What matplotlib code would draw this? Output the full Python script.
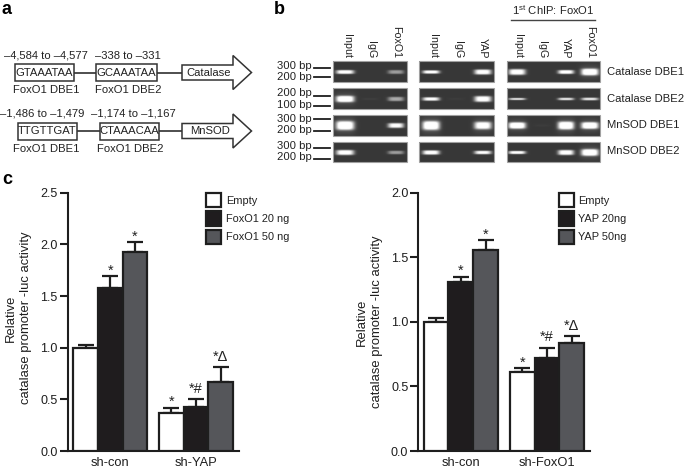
import matplotlib
matplotlib.use("Agg")
import matplotlib.pyplot as plt
from matplotlib.patches import Polygon, Rectangle
import numpy as np

plt.rcParams.update({
    "font.family": ["Liberation Sans", "DejaVu Sans"],
    "mathtext.fontset": "custom",
    "mathtext.rm": "Liberation Sans",
    "text.color": "#222222",
    "axes.linewidth": 1.5,
})

W, H = 685, 470
INK = "#1e1e1e"

# ---- panel c, left chart ----
GROUPS_L = ["sh-con", "sh-YAP"]
EMPTY_L = [1.00, 0.37]
LOW_L = [1.58, 0.43]
HIGH_L = [1.93, 0.67]
EMPTY_ERR_L = [0.03, 0.05]
LOW_ERR_L = [0.11, 0.07]
HIGH_ERR_L = [0.09, 0.14]
MARKS_EMPTY_L = ["", "*"]
MARKS_LOW_L = ["*", "*#"]
MARKS_HIGH_L = ["*", "*Δ"]
LEGEND_L = ["Empty", "FoxO1 20 ng", "FoxO1 50 ng"]
YTICKS_L = [0.0, 0.5, 1.0, 1.5, 2.0, 2.5]

# ---- panel c, right chart ----
GROUPS_R = ["sh-con", "sh-FoxO1"]
EMPTY_R = [1.00, 0.61]
LOW_R = [1.31, 0.72]
HIGH_R = [1.56, 0.84]
EMPTY_ERR_R = [0.03, 0.03]
LOW_ERR_R = [0.04, 0.08]
HIGH_ERR_R = [0.07, 0.05]
MARKS_EMPTY_R = ["", "*"]
MARKS_LOW_R = ["*", "*#"]
MARKS_HIGH_R = ["*", "*Δ"]
LEGEND_R = ["Empty", "YAP 20ng", "YAP 50ng"]
YTICKS_R = [0.0, 0.5, 1.0, 1.5, 2.0]

# ---- panel b, gels ----
ROW_NAMES = ["Catalase DBE1", "Catalase DBE2", "MnSOD DBE1", "MnSOD DBE2"]
LANES_1 = ["Input", "IgG", "FoxO1"]
LANES_2 = ["Input", "IgG", "YAP"]
LANES_3 = ["Input", "IgG", "YAP", "FoxO1"]
# band brightness, rows by lanes
BRIGHT_1 = [[0.85, 0.0, 0.4], [0.85, 0.03, 0.45], [0.85, 0.0, 0.8], [0.85, 0.0, 0.4]]
BRIGHT_2 = [[0.85, 0.0, 0.85], [0.8, 0.02, 0.85], [0.85, 0.0, 0.75], [0.85, 0.0, 0.8]]
BRIGHT_3 = [[0.85, 0.0, 0.85, 0.85], [0.7, 0.0, 0.7, 0.7], [0.85, 0.02, 0.85, 0.85], [0.85, 0.0, 0.85, 0.85]]
# band thickness, rows by lanes
THICK_1 = [[2.0, 1, 2.0], [3.2, 1, 2.2], [4.5, 1, 2.5], [2.6, 1, 1.8]]
THICK_2 = [[1.7, 1, 2.6], [1.8, 1, 3.0], [4.5, 1, 3.8], [2.2, 1, 1.8]]
THICK_3 = [[3.0, 1, 2.0, 3.4], [1.1, 1, 1.3, 1.4], [3.2, 1, 4.0, 3.4], [1.6, 1, 2.6, 3.4]]
SIZE_MARKS = [["300 bp", "200 bp"], ["200 bp", "100 bp"], ["300 bp", "200 bp"], ["300 bp", "200 bp"]]

# ---- panel a ----
SITES_1 = ["GTAAATAA", "GCAAATAA"]
SITES_2 = ["TTGTTGAT", "CTAAACAA"]
RANGES_1 = ["–4,584 to –4,577", "–338 to –331"]
RANGES_2 = ["–1,486 to –1,479", "–1,174 to –1,167"]
GENES = ["Catalase", "MnSOD"]
SITE_NAMES = ["FoxO1 DBE1", "FoxO1 DBE2"]

fig = plt.figure(figsize=(W / 100, H / 100), dpi=100)


def px_axes(left, top, right, bottom):
    return fig.add_axes([left / W, (H - bottom) / H, (right - left) / W, (bottom - top) / H])


# full-figure layer in pixel coordinates for panels a and b
ov = fig.add_axes([0, 0, 1, 1])
ov.set_axis_off()


def site_row(sites, ranges, boxes, y, y_range, y_name, range_x, name_x, gene, gene_x):
    top, bot = y - 8.5, y + 8.5
    for (x0, x1), site in zip(boxes, sites):
        ov.add_patch(Rectangle((x0, top), x1 - x0, bot - top, fc="white", ec="#333333", lw=1.1, zorder=3))
        ov.text((x0 + x1) / 2, y, site, ha="center", va="center", fontsize=8.1, zorder=4)
    ov.plot([boxes[0][1], boxes[1][0]], [y, y], color=INK, lw=1.1, zorder=2)
    ov.plot([boxes[1][1], 182], [y, y], color=INK, lw=1.1, zorder=2)
    arrow = [(182, y - 7.5), (233, y - 7.5), (233, y - 17), (251.5, y), (233, y + 17), (233, y + 7.5), (182, y + 7.5)]
    ov.add_patch(Polygon(arrow, closed=True, fc="white", ec="#333333", lw=1.1, zorder=3))
    ov.text(gene_x, y, gene, ha="center", va="center", fontsize=8.1, zorder=4)
    for x, txt in zip(range_x, ranges):
        ov.text(x, y_range, txt, ha="center", va="center", fontsize=8.1)
    for x, txt in zip(name_x, SITE_NAMES):
        ov.text(x, y_name, txt, ha="center", va="center", fontsize=8.1)


site_row(SITES_1, RANGES_1, [(14.7, 74.3), (96, 157)], 72.5, 56, 90, (46, 128), (46, 128), GENES[0], 209)
site_row(SITES_2, RANGES_2, [(17.7, 77.3), (100, 159)], 131, 114, 149, (42, 133), (46, 130), GENES[1], 210)

# gels
ROW_TOPS = [61, 88, 115, 142]
ROW_BOTS = [82, 109, 136, 162]
ROW_MID = [72, 99, 125.5, 152.5]


def gel_column(x0, x1, lane_x, band_x, hw, lanes, bright, thick):
    for r in range(4):
        top, bot = ROW_TOPS[r], ROW_BOTS[r]
        xs = np.linspace(x0, x1, int((x1 - x0) * 3))
        ys = np.linspace(top, bot, int((bot - top) * 3))
        xx, yy = np.meshgrid(xs, ys)
        img = np.full(xx.shape, 0.22)
        for c, bx in enumerate(band_x):
            dx, dy = (xx - bx) / hw[c], (yy - ROW_MID[r]) / thick[r][c]
            img += bright[r][c] * np.exp(-dx ** 4 - dy ** 4)
            # soft halo round the heavy bands only
            if thick[r][c] > 3.0:
                img += 0.18 * bright[r][c] * np.exp(-(dx / 1.15) ** 4 - (dy / 1.7) ** 2)
        ov.imshow(np.clip(img, 0, 1), extent=(x0, x1, bot, top), cmap="gray", vmin=0, vmax=1,
                  aspect="auto", interpolation="bilinear", zorder=1)
        ov.add_patch(Rectangle((x0, top), x1 - x0, bot - top, fc="none", ec="#a0a0a0", lw=0.8, zorder=2))
    for x, name in zip(lane_x, lanes):
        ov.text(x, 58, name, rotation=-90, rotation_mode="anchor", ha="right", va="center", fontsize=7.7)


gel_column(333, 407, (347, 371, 396), (345, 370, 396), (9, 8, 8), LANES_1, BRIGHT_1, THICK_1)
gel_column(419, 494, (433, 458, 483), (431, 456, 483), (8.5, 8, 8.5), LANES_2, BRIGHT_2, THICK_2)
gel_column(507, 600, (518, 542, 566, 590), (517, 542, 566, 590), (8.5, 8, 8, 8.5), LANES_3, BRIGHT_3, THICK_3)

ov.text(553, 10, r"1$^{\mathrm{st}}$ ChIP: FoxO1", ha="center", va="center", fontsize=8.1)
ov.plot([511, 595], [20, 20], color="#444444", lw=1.0)

mark_y = [(68, 77), (96, 106), (119, 131), (148, 159)]
label_y = [(66, 77), (93, 105), (119, 130), (146, 157)]
for r in range(4):
    for k in range(2):
        ov.plot([314, 330], [mark_y[r][k]] * 2, color=INK, lw=1.3)
        ov.text(312, label_y[r][k], SIZE_MARKS[r][k], ha="right", va="center", fontsize=8.1)
    ov.text(607, [72, 99, 125, 151][r], ROW_NAMES[r], ha="left", va="center", fontsize=8.1)

for txt, x, y in [("a", 2, 10), ("b", 274, 10), ("c", 2, 180)]:
    ov.text(x, y, txt, ha="left", va="center", fontsize=13, fontweight="bold", color="black")

ov.set_xlim(0, W)
ov.set_ylim(H, 0)


def bar_chart(ax, groups, empty, low, high, err_e, err_l, err_h, marks, legend, yticks, legend_xy, label_xy):
    starts = [0.23, 3.71]
    series = [empty, low, high]
    errs = [err_e, err_l, err_h]
    colors = ["white", "#1f1c1e", "#55565a"]
    for k in range(3):
        xs = [s + 0.5 + k for s in starts]
        ax.bar(xs, series[k], width=1.0, color=colors[k], edgecolor=INK, linewidth=1.6,
               label=legend[k], zorder=3)
        ax.errorbar(xs, series[k], yerr=[[0, 0], errs[k]], fmt="none", ecolor=INK, elinewidth=1.6,
                    capsize=5.5, capthick=1.6, zorder=2)
        for x, v, e, m in zip(xs, series[k], errs[k], marks[k]):
            if m:
                # the two-character marks have a glyph that sits on the baseline
                lift = 2.5 if len(m) > 1 else -1
                ax.annotate(m, (x, v + e), xytext=(0, lift), textcoords="offset points",
                            ha="center", va="bottom", fontsize=10.5)
    ax.set_xlim(0, 6.95)
    ax.set_ylim(0, yticks[-1])
    ax.set_yticks(yticks)
    ax.set_yticklabels([f"{t:.1f}" for t in yticks])
    ax.set_xticks([s + 1.5 for s in starts])
    ax.set_xticklabels(groups)
    ax.spines[["top", "right"]].set_visible(False)
    ax.spines[["left", "bottom"]].set_color(INK)
    ax.tick_params(axis="x", length=0, pad=4, labelsize=9.3, labelcolor=INK)
    ax.tick_params(axis="y", length=5.5, width=1.5, pad=1.5, labelsize=9, color=INK, labelcolor=INK)
    ax.set_ylabel("Relative\ncatalase promoter -luc activity", fontsize=9.4, color=INK,
                  va="center", ha="center", linespacing=1.3)
    ax.yaxis.set_label_coords(*label_xy)
    ax.patch.set_alpha(0)
    ax.legend(loc="upper left", bbox_to_anchor=legend_xy, frameon=False, fontsize=7.9, borderpad=0,
              borderaxespad=0, handlelength=1.32, handleheight=1.65, labelspacing=0.36, handletextpad=0.45)


ax_l = px_axes(67.5, 192.7, 239, 451)
bar_chart(ax_l, GROUPS_L, EMPTY_L, LOW_L, HIGH_L, EMPTY_ERR_L, LOW_ERR_L, HIGH_ERR_L,
          [MARKS_EMPTY_L, MARKS_LOW_L, MARKS_HIGH_L], LEGEND_L, YTICKS_L, (0.81, 1.0), (-0.285, 0.515))

ax_r = px_axes(418, 192.7, 590, 451)
bar_chart(ax_r, GROUPS_R, EMPTY_R, LOW_R, HIGH_R, EMPTY_ERR_R, LOW_ERR_R, HIGH_ERR_R,
          [MARKS_EMPTY_R, MARKS_LOW_R, MARKS_HIGH_R], LEGEND_R, YTICKS_R, (0.82, 1.0), (-0.282, 0.5))

fig.savefig("out.png", dpi=100, facecolor="white")
